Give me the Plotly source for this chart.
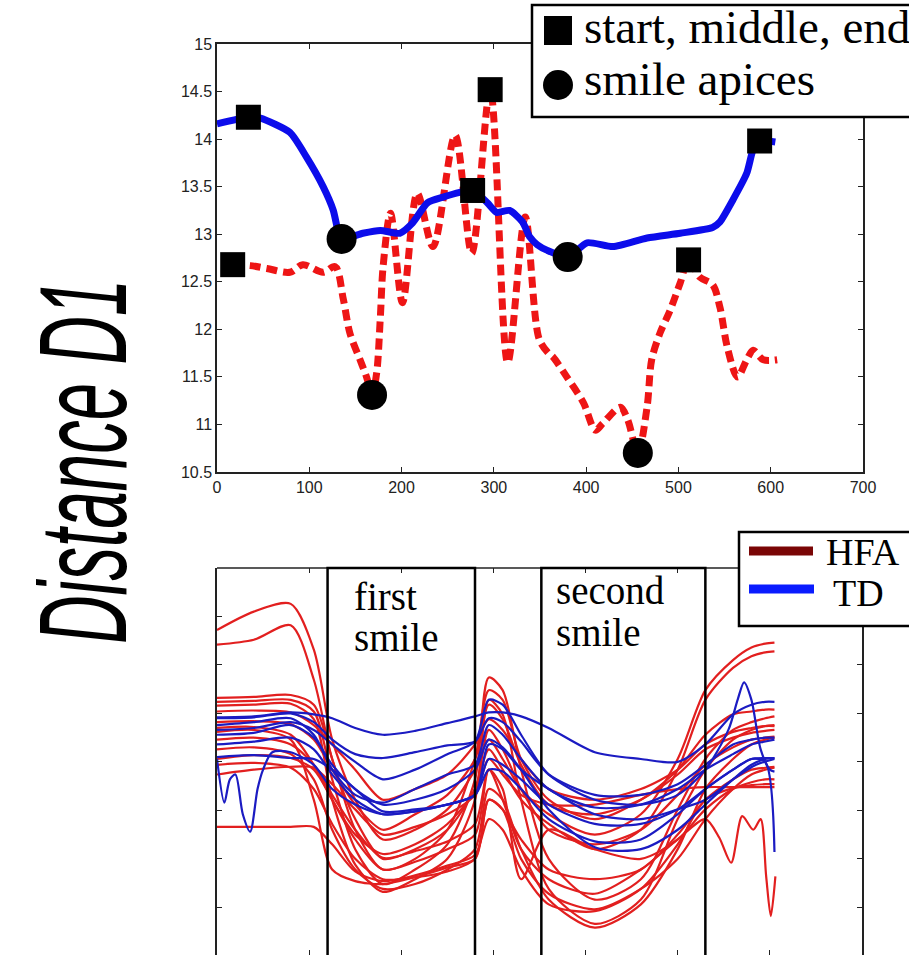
import plotly.graph_objects as go

# ---------------- top panel data (one HFA and one TD subject) ----------------
td_frame = [0, 34, 47, 79, 97, 115, 126, 131, 135, 158, 177, 198, 212, 228, 245, 263, 277,
            293, 303, 317, 331, 339, 347, 358, 380, 401, 429, 466, 502, 537, 545, 559,
            574, 581, 588, 605]
td_d1 = [14.16, 14.23, 14.22, 14.07, 13.81, 13.50, 13.25, 13.04, 12.95, 13.01, 13.04, 13.01,
         13.12, 13.33, 13.39, 13.44, 13.46, 13.33, 13.23, 13.25, 13.13, 12.97, 12.89, 12.83,
         12.76, 12.91, 12.87, 12.96, 13.01, 13.07, 13.13, 13.36, 13.64, 13.89, 13.98, 13.97]

hfa_frame = [17, 36, 54, 79, 93, 115, 128, 137, 144, 155, 162, 168, 173, 177, 180, 188, 201,
             217, 234, 258, 276, 296, 315, 334, 349, 359, 364, 379, 397, 410, 418, 437, 445,
             456, 466, 471, 480, 491, 502, 511, 523, 537, 545, 553, 564, 574, 581, 592, 607]
hfa_d1 = [12.68, 12.67, 12.64, 12.60, 12.68, 12.60, 12.66, 12.31, 11.96, 11.68, 11.50, 11.31,
          11.54, 12.13, 12.66, 13.22, 12.28, 13.43, 12.87, 14.04, 12.80, 14.52, 11.65, 13.18,
          11.90, 11.75, 11.71, 11.50, 11.23, 10.94, 11.01, 11.18, 11.05, 10.70, 11.18, 11.68,
          11.96, 12.20, 12.49, 12.73, 12.55, 12.47, 12.23, 11.81, 11.50, 11.68, 11.78, 11.68,
          11.68]

key_frame = [17, 34, 277, 296, 511, 588]          # start, middle, end
key_d1 = [12.68, 14.23, 13.46, 14.52, 12.73, 13.98]
apex_frame = [135, 168, 380, 456]                  # smile apices
apex_d1 = [12.95, 11.31, 12.76, 10.70]

top_xticks = [0, 100, 200, 300, 400, 500, 600, 700]
top_yticks = [10.5, 11, 11.5, 12, 12.5, 13, 13.5, 14, 14.5, 15]

# ---------------- bottom panel data (all subjects) ----------------
grid = [0, 40, 80, 105, 125, 150, 180, 215, 250, 280, 295, 310, 330, 360, 410, 460,
        500, 530, 560, 580, 595, 605]

hfa_1 = [13.36, 13.55, 13.63, 13.16, 12.23, 11.61, 11.20, 11.30, 11.51, 11.92, 12.23, 12.03,
         11.72, 11.46, 11.25, 11.46, 12.03, 12.74, 13.05, 13.18, 13.22, 13.23]
hfa_2 = [13.21, 13.26, 13.41, 12.85, 12.03, 11.41, 11.00, 11.10, 11.30, 11.72, 12.13, 11.92,
         11.61, 11.36, 11.10, 11.30, 11.92, 12.64, 12.97, 13.09, 13.13, 13.14]
hfa_3 = [12.66, 12.67, 12.69, 12.59, 12.03, 11.30, 10.89, 11.00, 11.30, 12.03, 12.74, 12.64,
         12.03, 11.61, 11.41, 11.61, 11.92, 12.28, 12.49, 12.52, 12.54, 12.54]
hfa_4 = [12.62, 12.63, 12.64, 12.52, 11.82, 11.10, 10.74, 10.89, 11.15, 11.82, 12.87, 12.74,
         11.92, 11.00, 10.58, 10.79, 11.51, 12.03, 12.33, 12.41, 12.45, 12.47]
hfa_5 = [12.58, 12.59, 12.60, 12.44, 11.61, 10.94, 10.66, 10.79, 11.00, 11.61, 12.64, 12.49,
         11.61, 10.69, 10.33, 10.58, 11.41, 11.92, 12.23, 12.33, 12.37, 12.38]
hfa_6 = [12.52, 12.53, 12.51, 12.38, 12.18, 11.92, 11.61, 11.72, 11.87, 12.18, 12.44, 12.33,
         12.03, 11.72, 11.61, 11.72, 11.92, 12.18, 12.31, 12.35, 12.37, 12.37]
hfa_7 = [12.41, 12.42, 12.39, 12.23, 11.92, 11.56, 11.30, 11.46, 11.66, 12.03, 12.59, 12.44,
         11.97, 11.56, 11.46, 11.61, 11.87, 12.13, 12.25, 12.30, 12.32, 12.33]
hfa_8 = [12.35, 12.36, 12.28, 11.97, 11.61, 11.25, 11.05, 11.15, 11.36, 11.72, 12.33, 12.13,
         11.72, 11.30, 11.15, 11.30, 11.66, 11.97, 12.15, 12.23, 12.25, 12.26]
hfa_9 = [11.87, 11.92, 11.95, 11.94, 11.77, 11.51, 11.25, 11.33, 11.46, 11.66, 12.03, 11.87,
         11.66, 11.56, 11.56, 11.66, 11.72, 11.74, 11.74, 11.74, 11.74, 11.74]
hfa_10 = [11.33, 11.33, 11.33, 11.33, 11.15, 10.87, 10.77, 10.83, 10.93, 11.04, 11.41, 11.30,
          10.89, 10.53, 10.46, 10.69, 11.15, 11.61, 11.73, 11.76, 11.77, 11.77]
hfa_11 = [12.23, 12.25, 12.18, 11.97, 11.66, 11.30, 11.01, 11.08, 11.18, 11.36, 11.92, 11.72,
          10.79, 11.30, 11.10, 11.00, 11.20, 11.51, 11.72, 11.79, 11.82, 11.82]
hfa_13 = [12.13, 12.15, 12.08, 11.82, 11.30, 10.89, 10.69, 10.74, 10.89, 11.10, 11.72, 11.61,
          11.10, 10.58, 10.29, 10.53, 11.10, 11.72, 12.03, 12.18, 12.23, 12.25]
hfa_14 = [11.97, 11.99, 11.94, 11.72, 11.36, 11.00, 10.79, 10.81, 10.87, 11.00, 11.61, 11.51,
          11.00, 10.64, 10.48, 10.69, 11.00, 11.41, 11.72, 11.87, 11.92, 11.94]
hfa_15 = [12.31, 12.33, 12.23, 11.61, 10.89, 10.77, 10.74, 10.81, 10.91, 11.00, 11.61, 11.51,
          11.20, 10.89, 10.79, 10.89, 11.25, 11.61, 11.82, 11.92, 11.94, 11.95]
hfa_12_frame = [0, 40, 80, 105, 125, 150, 180, 215, 250, 280, 295, 310, 330, 360, 410, 460,
                500, 530, 545, 558, 570, 582, 590, 596, 601, 606]
hfa_12 = [12.03, 12.07, 12.04, 11.92, 11.61, 11.20, 10.89, 10.97, 11.10, 11.25, 11.92, 11.61,
          11.10, 10.79, 10.64, 10.89, 11.20, 11.41, 11.22, 10.96, 11.44, 11.30, 11.41, 10.82,
          10.41, 10.82]

td_1 = [12.46, 12.47, 12.51, 12.49, 12.45, 12.35, 12.28, 12.32, 12.40, 12.47, 12.51, 12.51,
        12.47, 12.35, 12.10, 12.03, 12.00, 12.18, 12.49, 12.59, 12.62, 12.62]
td_4 = [12.28, 12.30, 12.38, 12.25, 11.97, 11.72, 11.56, 11.61, 11.72, 11.92, 12.23, 12.15,
        11.92, 11.51, 11.12, 11.10, 11.30, 11.56, 11.82, 11.97, 12.03, 12.04]
td_5 = [12.05, 12.07, 12.04, 12.03, 11.92, 11.72, 11.49, 11.51, 11.56, 11.66, 11.92, 11.90,
        11.72, 11.41, 11.18, 11.20, 11.46, 11.72, 11.92, 12.03, 12.00, 11.07]
td_6 = [12.45, 12.46, 12.50, 12.41, 12.23, 12.08, 12.04, 12.10, 12.17, 12.21, 12.45, 12.41,
        12.21, 11.87, 11.66, 11.66, 11.77, 11.97, 12.18, 12.23, 12.25, 12.25]
td_7 = [12.18, 12.21, 12.25, 12.13, 11.87, 11.61, 11.46, 11.49, 11.56, 11.66, 12.03, 11.97,
        11.82, 11.56, 11.36, 11.36, 11.51, 11.72, 11.92, 12.03, 12.04, 12.04]
td_8 = [12.38, 12.41, 12.45, 12.28, 11.92, 11.66, 11.58, 11.72, 11.87, 11.97, 12.38, 12.28,
        12.03, 11.72, 11.53, 11.56, 11.72, 11.92, 12.08, 12.18, 12.21, 12.23]
td_2_frame = [0, 40, 80, 105, 125, 150, 180, 215, 250, 280, 295, 310, 330, 360, 410, 460,
              500, 530, 555, 565, 572, 580, 590, 600, 605]
td_2 = [12.33, 12.35, 12.41, 12.33, 12.18, 12.00, 11.82, 11.92, 12.08, 12.21, 12.64, 12.59,
        12.28, 11.87, 11.61, 11.56, 11.66, 11.92, 12.33, 12.64, 12.82, 12.64, 12.13, 11.92,
        11.90]
td_3_frame = [0, 8, 14, 20, 28, 36, 44, 50, 60, 80, 105, 125, 150, 180, 215, 250, 280, 295,
              310, 330, 360, 410, 460, 500, 530, 560, 585, 605]
td_3 = [12.03, 11.58, 11.82, 11.87, 11.46, 11.28, 11.72, 11.92, 12.10, 12.10, 11.97, 11.72,
        11.56, 11.46, 11.49, 11.56, 11.66, 12.18, 12.13, 11.92, 11.72, 11.46, 11.41, 11.51,
        11.61, 11.82, 11.97, 12.03]

smile_windows = [(120, 280), (352, 530)]
bottom_ticks_x = [0, 100, 200, 300, 400, 500, 600, 700]
bottom_ticks_y = [10, 10.5, 11, 11.5, 12, 12.5, 13, 13.5, 14]

# ---------------- figure ----------------
W, H = 909, 955


def fx(px):
    return px / W


def fy(py):
    return 1 - py / H


RED, BLUE = "#ee1515", "#0c0ceb"
HFA_C, TD_C = "#e21f1f", "#1b1bc2"

fig = go.Figure()

fig.add_trace(go.Scatter(x=hfa_frame, y=hfa_d1, mode="lines",
                         line=dict(color=RED, width=7, dash="11px,6px", shape="spline", smoothing=0.9),
                         showlegend=False, xaxis="x", yaxis="y"))
fig.add_trace(go.Scatter(x=td_frame, y=td_d1, mode="lines",
                         line=dict(color=BLUE, width=7, shape="spline", smoothing=0.6),
                         showlegend=False, xaxis="x", yaxis="y"))
fig.add_trace(go.Scatter(x=key_frame, y=key_d1, mode="markers",
                         marker=dict(symbol="square", size=25, color="black"),
                         name="start, middle, end", showlegend=False, xaxis="x", yaxis="y"))
fig.add_trace(go.Scatter(x=apex_frame, y=apex_d1, mode="markers",
                         marker=dict(symbol="circle", size=30, color="black"),
                         name="smile apices", showlegend=False, xaxis="x", yaxis="y"))

hfa_series = [(grid, hfa_1), (grid, hfa_2), (grid, hfa_3), (grid, hfa_4), (grid, hfa_5), (grid, hfa_6),
              (grid, hfa_7), (grid, hfa_8), (grid, hfa_9), (grid, hfa_10), (grid, hfa_11),
              (hfa_12_frame, hfa_12), (grid, hfa_13), (grid, hfa_14), (grid, hfa_15)]
td_series = [(grid, td_1), (td_2_frame, td_2), (td_3_frame, td_3), (grid, td_4), (grid, td_5),
             (grid, td_6), (grid, td_7), (grid, td_8)]

for xs, ys in hfa_series:
    fig.add_trace(go.Scatter(x=xs, y=ys, mode="lines",
                             line=dict(color=HFA_C, width=2.2, shape="spline", smoothing=0.8),
                             name="HFA", showlegend=False, xaxis="x2", yaxis="y2"))
for xs, ys in td_series:
    fig.add_trace(go.Scatter(x=xs, y=ys, mode="lines",
                             line=dict(color=TD_C, width=2.2, shape="spline", smoothing=0.8),
                             name="TD", showlegend=False, xaxis="x2", yaxis="y2"))

axis_common = dict(showgrid=False, zeroline=False, linecolor="#222", linewidth=1.5,
                   ticks="inside", ticklen=5, tickcolor="#222", tickwidth=1, automargin=False)
tickfont = dict(family="Liberation Sans, Arial, sans-serif", size=16, color="#222")

# value at the figure's bottom edge for the lower panel (0.5 units per 48.6 px)
bottom_min = 14.0 - (H + 1 - 568) / 97.2

fig.update_layout(
    template="none",
    width=W, height=H, margin=dict(l=0, r=0, t=0, b=0, pad=0, autoexpand=False),
    paper_bgcolor="white", plot_bgcolor="white", showlegend=False,
    xaxis=dict(domain=[fx(217), fx(863)], range=[0, 700], tickvals=top_xticks, tickfont=tickfont,
               anchor="y", mirror="ticks", showline=True, **axis_common),
    yaxis=dict(domain=[fy(472), fy(44)], range=[10.5, 15], tickvals=top_yticks,
               tickfont=tickfont, anchor="x", mirror="ticks", showline=True, **axis_common),
    # lower panel: bottom edge runs off the page, so only its ticks show there
    xaxis2=dict(domain=[fx(217), fx(862)], range=[0, 700], tickvals=bottom_ticks_x, showticklabels=False,
                anchor="y2", side="bottom", mirror="ticks", showline=False, **axis_common),
    yaxis2=dict(domain=[0, fy(568)], range=[bottom_min, 14.0], tickvals=bottom_ticks_y,
                showticklabels=False, anchor="x2", mirror="ticks", showline=True, **axis_common),
)

shapes = []
annotations = []
serif = "Liberation Serif, Times New Roman, serif"

# top frame line of the lower panel
shapes.append(dict(type="line", xref="x2 domain", yref="y2 domain", x0=0, x1=1, y0=1, y1=1,
                   line=dict(color="#222", width=1.5)))

# smile windows in the bottom panel
for a, b in smile_windows:
    shapes.append(dict(type="rect", xref="x2", yref="y2 domain", x0=a, x1=b, y0=-0.05, y1=1,
                       line=dict(color="black", width=2.5)))


def label(text, px, py, size, anchor="left"):
    return dict(text=text, x=fx(px), y=fy(py), xref="paper", yref="paper", xanchor=anchor,
                yanchor="middle", showarrow=False, font=dict(family=serif, size=size, color="black"))


annotations += [label("first", 352, 596, 39), label("smile", 352, 637, 39),
                label("second", 554, 590, 39), label("smile", 554, 632, 39)]

# top legend
shapes.append(dict(type="rect", xref="paper", yref="paper", x0=fx(532), x1=1.02, y0=fy(117), y1=fy(5),
                   line=dict(color="black", width=2.5), fillcolor="white", layer="above"))
shapes.append(dict(type="rect", xref="paper", yref="paper", x0=fx(544), x1=fx(572), y0=fy(45), y1=fy(16),
                   line=dict(width=0), fillcolor="black", layer="above"))
shapes.append(dict(type="circle", xref="paper", yref="paper", x0=fx(543), x1=fx(573), y0=fy(100), y1=fy(70),
                   line=dict(width=0), fillcolor="black", layer="above"))
annotations += [label("start, middle, end", 582, 27, 47), label("smile apices", 582, 79, 47)]

# bottom legend
shapes.append(dict(type="rect", xref="paper", yref="paper", x0=fx(739), x1=1.02, y0=fy(626), y1=fy(532),
                   line=dict(color="black", width=2.5), fillcolor="white", layer="above"))
shapes.append(dict(type="line", xref="paper", yref="paper", x0=fx(749), x1=fx(813), y0=fy(551), y1=fy(551),
                   line=dict(color="#7a0505", width=9), layer="above"))
shapes.append(dict(type="line", xref="paper", yref="paper", x0=fx(749), x1=fx(814), y0=fy(589), y1=fy(589),
                   line=dict(color="#0a1cff", width=9), layer="above"))
annotations += [label("HFA", 824, 552, 38), label("TD", 831, 593, 38)]

# shared y-axis title (squeezed along its baseline to the reference's length in the page script)
annotations.append(dict(text="Distance D1", x=fx(83), y=fy(462), xref="paper", yref="paper",
                        xanchor="center", yanchor="middle", textangle=-90, showarrow=False,
                        font=dict(family="Liberation Sans, Arial, sans-serif", size=124,
                                  style="italic", color="black")))

fig.update_layout(shapes=shapes, annotations=annotations)

post = """
document.body.style.margin = '0';
document.body.style.overflow = 'hidden';
var gd = document.getElementById('{plot_id}');
gd.querySelectorAll('text.annotation-text').forEach(function (t) {
  if (t.textContent.indexOf('Distance') === 0) {
    var b = t.getBBox();
    var s = 365 / b.width;
    var cx = b.x + b.width / 2, cy = b.y + b.height / 2;
    var prev = t.getAttribute('transform') || '';
    t.setAttribute('transform', prev + ' translate(' + cx + ',' + cy + ') scale(' + s + ',1) translate(' + (-cx) + ',' + (-cy) + ')');
  }
});
"""
fig.write_html("out.html", post_script=post, config={"displayModeBar": False})
